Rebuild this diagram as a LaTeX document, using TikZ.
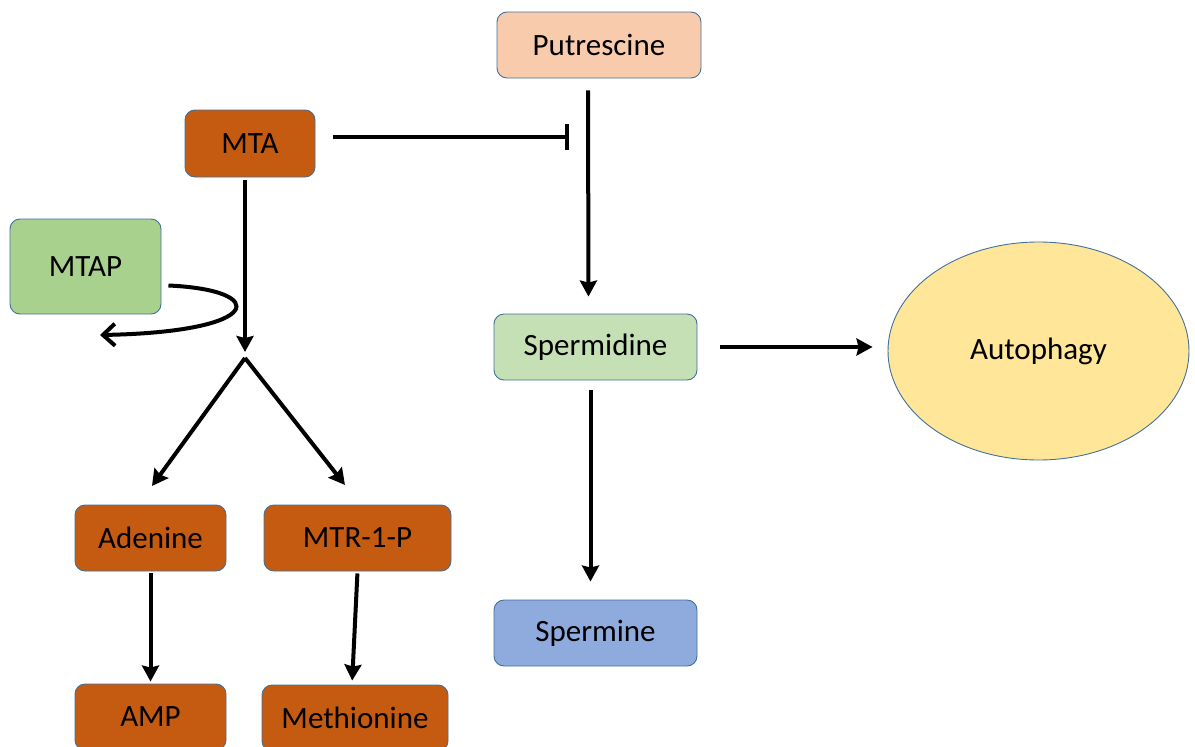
\documentclass[tikz,border=0pt]{standalone}
\usepackage{fontspec}
\setmainfont{Carlito}
\usetikzlibrary{arrows.meta,shapes.geometric}

\definecolor{edge}{HTML}{41719C}
\definecolor{rust}{HTML}{C55A11}
\definecolor{peach}{HTML}{F8CBAD}
\definecolor{leaf}{HTML}{A9D18E}
\definecolor{mint}{HTML}{C5E0B4}
\definecolor{sky}{HTML}{8FAADC}
\definecolor{butter}{HTML}{FFE699}

\tikzset{
  box/.style={draw=edge, line width=0.9pt, rounded corners=10pt,
    minimum width=#1, minimum height=66pt, inner sep=0pt,
    font=\fontsize{31}{36}\selectfont},
  box/.default=151pt,
  flow/.style={line width=4pt, -{Stealth[length=16pt,width=17pt,inset=2pt]}},
  loopflow/.style={line width=4pt, -{Straight Barb[length=12pt,width=22pt,line width=4pt]}},
  block/.style={line width=4pt, -{Bar[width=26pt,line width=4pt]}}
}

\begin{document}
\begin{tikzpicture}[x=1pt,y=-1pt]
\useasboundingbox (0,0) rectangle (1195,747);

% metabolites
\node[box=204pt, fill=peach] (put) at (599,45) {Putrescine};
\node[box=130pt, minimum height=67pt, fill=rust] (mta) at (250,143.5) {MTA};
\node[box=151pt, minimum height=95pt, fill=leaf] (mtap) at (85.5,266.5) {MTAP};
\node[box=203pt, fill=mint] (spd) at (595.5,347) {Spermidine};
\node[box=203pt, fill=sky] (spm) at (595.5,633) {Spermine};
\node[draw=edge, line width=0.9pt, fill=butter, ellipse,
      minimum width=301pt, minimum height=218pt, inner sep=0pt,
      font=\fontsize{31}{36}\selectfont] (auto) at (1038.5,351) {Autophagy};
\node[box=151pt, fill=rust] (ade) at (150.5,538) {Adenine};
\node[box=187pt, fill=rust] (mtr) at (357.5,538) {MTR-1-P};
\node[box=151pt, fill=rust] (amp) at (150.5,717) {AMP};
\node[box=186pt, fill=rust] (met) at (355,718) {Methionine};

% helper points
\coordinate (split) at (245,358);
\coordinate (adeTip) at (152,486);
\coordinate (mtrTip) at (345,485);
\coordinate (blockEnd) at (569,137);
\coordinate (loopEnd) at (100,335);

% connectors
\draw[flow, shorten <=3pt, shorten >=6pt] ([xshift=-5pt]mta.south) -- (split);
\draw[flow] (split) -- (adeTip);
\draw[flow] (split) -- (mtrTip);
\draw[flow, shorten <=2pt, shorten >=2pt] (ade.south) -- (amp.north);
\draw[flow, shorten <=2pt, shorten >=4pt] (mtr.south) -- ([xshift=-3pt]met.north);
\draw[loopflow] ([yshift=-19pt]mtap.east) ++(7,0) .. controls (270,290) and (265,332) .. (loopEnd);
\draw[block] ([xshift=18pt]mta.east |- blockEnd) -- (blockEnd);
\draw[flow, shorten <=12pt, shorten >=17pt] ([xshift=-11pt]put.south) -- ([xshift=-7pt]spd.north);
\draw[flow, shorten <=10pt, shorten >=18pt] ([xshift=-5pt]spd.south) -- ([xshift=-5pt]spm.north);
\draw[flow, shorten <=23pt, shorten >=15pt] (spd.east) -- (spd.east -| auto.west);
\end{tikzpicture}
\end{document}
